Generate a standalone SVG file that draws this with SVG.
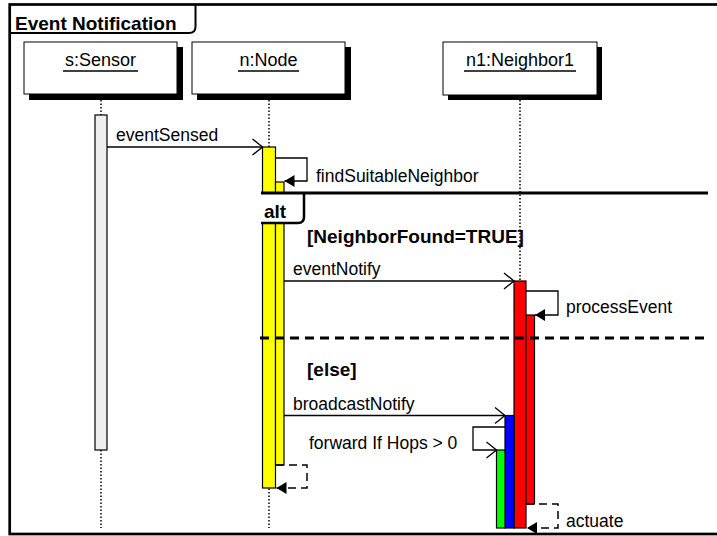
<svg xmlns="http://www.w3.org/2000/svg" width="717" height="536" viewBox="0 0 717 536">
<style>
text{font-family:"Liberation Sans",Arial,sans-serif;fill:#000}
.lbl{font-size:17.5px}
.nm{font-size:18px;text-anchor:middle}
.b{font-size:19px;font-weight:bold}
.box{fill:#fff;stroke:#000;stroke-width:1}
.sh{fill:#000}
.ul{stroke:#000;stroke-width:1.3}
.life{stroke:#000;stroke-width:1.5;stroke-dasharray:1.5 2;fill:none}
.msg{stroke:#000;stroke-width:1.3;fill:none}
.ret{stroke:#000;stroke-width:1.5;fill:none;stroke-dasharray:8 5}
.bar{stroke:#000;stroke-width:1.2}
</style>
<defs>
<marker id="open" markerUnits="userSpaceOnUse" markerWidth="14" markerHeight="18" viewBox="-1 -1 14 18" refX="11" refY="8" orient="auto">
<path d="M1,0 L11,8 L1,16" fill="none" stroke="#000" stroke-width="1.3"/>
</marker>
<marker id="fill" markerUnits="userSpaceOnUse" markerWidth="12" markerHeight="14" viewBox="0 0 12 14" refX="10" refY="6" orient="auto">
<path d="M0,0 L10,6 L0,12 z" fill="#000"/>
</marker>
</defs>
<rect width="717" height="536" fill="#fff"/>
<g id="frame">
<rect x="9.7" y="4.5" width="760" height="529.5" fill="none" stroke="#000" stroke-width="2.7"/>
<path d="M10,33 H189 Q195.5,33 195.5,26.5 V4.5" fill="none" stroke="#000" stroke-width="2"/>
<text class="b" x="15" y="29.5">Event Notification</text>
</g>
<g id="lifelines">
<line class="life" x1="101" y1="100" x2="101" y2="528"/>
<line class="life" x1="269" y1="100" x2="269" y2="528"/>
<line class="life" x1="520" y1="100" x2="520" y2="528"/>
</g>
<g id="s_sensor">
<rect class="sh" x="29" y="47" width="154" height="53"/>
<rect class="box" x="24" y="42" width="153" height="52"/>
<text class="nm" x="100.5" y="66">s:Sensor</text>
<line class="ul" x1="63" y1="71" x2="138" y2="71"/>
</g>
<g id="n_node">
<rect class="sh" x="197" y="47" width="154" height="53"/>
<rect class="box" x="192" y="42" width="153" height="52"/>
<text class="nm" x="268.5" y="66">n:Node</text>
<line class="ul" x1="238" y1="71" x2="299" y2="71"/>
</g>
<g id="n1_neighbor1">
<rect class="sh" x="448" y="47" width="154" height="53"/>
<rect class="box" x="443" y="42" width="154" height="53"/>
<text class="nm" x="520" y="66">n1:Neighbor1</text>
<line class="ul" x1="464" y1="71" x2="576" y2="71"/>
</g>
<g id="activations">
<rect class="bar" x="95" y="115" width="12" height="335" fill="#eeeeee"/>
<rect class="bar" x="262.5" y="147" width="13" height="341" fill="#ffff00"/>
<rect class="bar" x="275.5" y="182" width="8.5" height="283" fill="#ffff00"/>
<rect class="bar" x="514" y="281" width="12" height="247" fill="#ff0000"/>
<rect class="bar" x="526" y="315" width="8.5" height="189" fill="#ff0000"/>
<rect class="bar" x="505" y="415.5" width="9" height="112.5" fill="#0000ff"/>
<rect class="bar" x="496.5" y="450" width="8.5" height="78" fill="#00ff00"/>
</g>
<g id="alt_fragment">
<path d="M261,193 V223 H298 Q304,223 304,217 V193 Z" fill="#fff" stroke="none"/>
<line x1="261" y1="193" x2="708" y2="193" stroke="#000" stroke-width="3"/>
<path d="M261,223 H298 Q304,223 304,217 V193" fill="none" stroke="#000" stroke-width="2.5"/>
<text class="b" x="264" y="218">alt</text>
<text class="b" x="307" y="243">[NeighborFound=TRUE]</text>
<line x1="260" y1="338" x2="705" y2="338" stroke="#000" stroke-width="3" stroke-dasharray="9 6"/>
<text class="b" x="307" y="376">[else]</text>
</g>
<g id="connectors">
<line class="msg" x1="107" y1="147" x2="262.5" y2="147" marker-end="url(#open)"/>
<text class="lbl" x="116" y="141">eventSensed</text>
<path class="msg" d="M276,158 H307 V181 H284.5" marker-end="url(#fill)"/>
<text class="lbl" x="316" y="182">findSuitableNeighbor</text>
<line class="msg" x1="284" y1="281" x2="514" y2="281" marker-end="url(#open)"/>
<text class="lbl" x="293" y="275">eventNotify</text>
<path class="msg" d="M526,291 H558 V315 H535" marker-end="url(#fill)"/>
<text class="lbl" x="566" y="313">processEvent</text>
<line class="msg" x1="284" y1="415.5" x2="505" y2="415.5" marker-end="url(#open)"/>
<text class="lbl" x="293" y="410">broadcastNotify</text>
<path class="msg" d="M505,427 H473 V450 H496.5" marker-end="url(#open)"/>
<text class="lbl" x="309" y="449">forward If Hops &gt; 0</text>
<path class="ret" d="M276,465 H307 V488 H276.5" marker-end="url(#fill)"/>
<path class="ret" d="M526,504 H558 V528 H527" marker-end="url(#fill)"/>
<text class="lbl" x="566" y="527">actuate</text>
</g>
</svg>
